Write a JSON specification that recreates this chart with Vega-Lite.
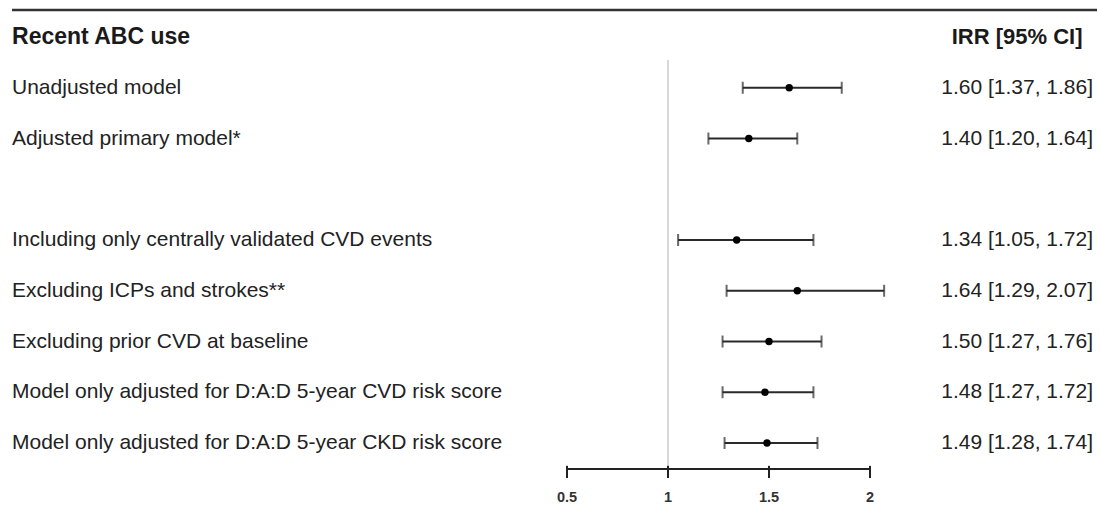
{
  "$schema": "https://vega.github.io/schema/vega-lite/v6.json",
  "width": 1100,
  "height": 510,
  "autosize": {"type": "fit", "contains": "padding"},
  "padding": 0,
  "background": "white",
  "config": {"view": {"stroke": null}, "font": "Liberation Sans"},
  "datasets": {
    "rows": [
      {"label": "Unadjusted model", "row": 1, "est": 1.60, "lo": 1.37, "hi": 1.86, "irr": "1.60 [1.37, 1.86]"},
      {"label": "Adjusted primary model*", "row": 2, "est": 1.40, "lo": 1.20, "hi": 1.64, "irr": "1.40 [1.20, 1.64]"},
      {"label": "Including only centrally validated CVD events", "row": 4, "est": 1.34, "lo": 1.05, "hi": 1.72, "irr": "1.34 [1.05, 1.72]"},
      {"label": "Excluding ICPs and strokes**", "row": 5, "est": 1.64, "lo": 1.29, "hi": 2.07, "irr": "1.64 [1.29, 2.07]"},
      {"label": "Excluding prior CVD at baseline", "row": 6, "est": 1.50, "lo": 1.27, "hi": 1.76, "irr": "1.50 [1.27, 1.76]"},
      {"label": "Model only adjusted for D:A:D 5-year CVD risk score", "row": 7, "est": 1.48, "lo": 1.27, "hi": 1.72, "irr": "1.48 [1.27, 1.72]"},
      {"label": "Model only adjusted for D:A:D 5-year CKD risk score", "row": 8, "est": 1.49, "lo": 1.28, "hi": 1.74, "irr": "1.49 [1.28, 1.74]"}
    ],
    "ticks": [{"v": 0.5, "t": "0.5"}, {"v": 1, "t": "1"}, {"v": 1.5, "t": "1.5"}, {"v": 2, "t": "2"}],
    "one": [{}]
  },
  "data": {"name": "rows"},
  "encoding": {
    "x": {"type": "quantitative", "scale": {"domain": [-2.307, 3.1386], "nice": false, "zero": false}, "axis": null},
    "y": {"type": "quantitative", "scale": {"domain": [-0.729, 9.32], "nice": false, "zero": false, "reverse": true}, "axis": null}
  },
  "layer": [
    {
      "data": {"name": "one"},
      "mark": {"type": "rule", "color": "#333333", "strokeWidth": 2.5},
      "encoding": {"x": {"datum": -2.2475}, "x2": {"datum": 3.124}, "y": {"datum": -0.532}}
    },
    {
      "data": {"name": "one"},
      "mark": {"type": "text", "align": "left", "baseline": "middle", "fontSize": 23, "fontWeight": "bold", "color": "#1a1a1a", "font": "Liberation Sans"},
      "encoding": {"x": {"datum": -2.2475}, "y": {"datum": 0}, "text": {"value": "Recent ABC use"}}
    },
    {
      "data": {"name": "one"},
      "mark": {"type": "text", "align": "center", "baseline": "middle", "fontSize": 22, "fontWeight": "bold", "color": "#1a1a1a", "font": "Liberation Sans"},
      "encoding": {"x": {"datum": 2.728}, "y": {"datum": 0}, "text": {"value": "IRR [95% CI]"}}
    },
    {
      "data": {"name": "one"},
      "mark": {"type": "rule", "color": "#cccccc", "strokeWidth": 1.5},
      "encoding": {"x": {"datum": 1}, "y": {"datum": 0.453}, "y2": {"datum": 8.512}}
    },
    {
      "data": {"name": "one"},
      "mark": {"type": "rule", "color": "#222222", "strokeWidth": 2},
      "encoding": {"x": {"datum": 0.5}, "x2": {"datum": 2}, "y": {"datum": 8.512}}
    },
    {
      "data": {"name": "ticks"},
      "mark": {"type": "rule", "color": "#222222", "strokeWidth": 2},
      "encoding": {"x": {"field": "v"}, "y": {"datum": 8.45}, "y2": {"datum": 8.69}}
    },
    {
      "data": {"name": "ticks"},
      "mark": {"type": "text", "align": "center", "baseline": "middle", "fontSize": 14.5, "fontWeight": "bold", "color": "#333333", "font": "Liberation Sans"},
      "encoding": {"x": {"field": "v"}, "y": {"datum": 9.08}, "text": {"field": "t"}}
    },
    {
      "mark": {"type": "rule", "color": "#2a2a2a", "strokeWidth": 2},
      "encoding": {"x": {"field": "lo"}, "x2": {"field": "hi"}, "y": {"field": "row"}}
    },
    {
      "mark": {"type": "tick", "orient": "vertical", "color": "#2a2a2a", "thickness": 2, "size": 12},
      "encoding": {"x": {"field": "lo"}, "y": {"field": "row"}}
    },
    {
      "mark": {"type": "tick", "orient": "vertical", "color": "#2a2a2a", "thickness": 2, "size": 12},
      "encoding": {"x": {"field": "hi"}, "y": {"field": "row"}}
    },
    {
      "mark": {"type": "circle", "color": "#000000", "opacity": 1, "size": 55},
      "encoding": {"x": {"field": "est"}, "y": {"field": "row"}}
    },
    {
      "mark": {"type": "text", "align": "left", "baseline": "middle", "fontSize": 21, "color": "#222222", "font": "Liberation Sans"},
      "encoding": {"x": {"datum": -2.2475}, "y": {"field": "row"}, "text": {"field": "label"}}
    },
    {
      "mark": {"type": "text", "align": "right", "baseline": "middle", "fontSize": 21, "color": "#222222", "font": "Liberation Sans"},
      "encoding": {"x": {"datum": 3.104}, "y": {"field": "row"}, "text": {"field": "irr"}}
    }
  ]
}
